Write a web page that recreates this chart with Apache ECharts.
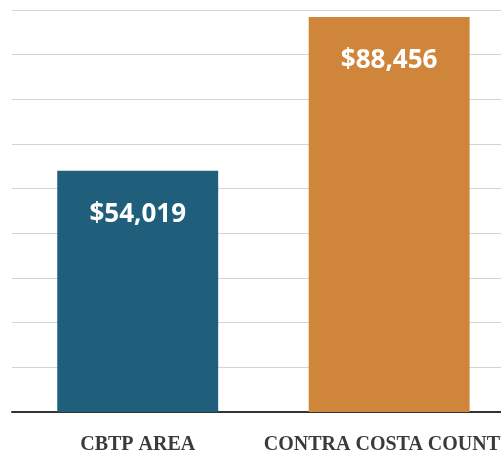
<!DOCTYPE html>
<html>
<head>
<meta charset="utf-8">
<script src="https://cdn.jsdelivr.net/npm/echarts@6/dist/echarts.min.js"></script>
<style>
  html, body { margin: 0; padding: 0; background: #fff; overflow: hidden; }
  /* the plot runs a little past the right edge of the page */
  #chart { width: 517px; height: 455px; }
</style>
</head>
<body>
<div id="chart"></div>
<script>
// Median household income by area
const categories = ['CBTP AREA', 'CONTRA COSTA COUNTY'];
const incomes = [54019, 88456];
const barColors = ['#1f5f7b', '#d0863a'];

const chart = echarts.init(document.getElementById('chart'), null, { renderer: 'canvas' });

chart.setOption({
  animation: false,
  backgroundColor: '#ffffff',
  grid: { left: 12, right: 0, top: 10, bottom: 39, containLabel: false },
  xAxis: {
    type: 'category',
    data: categories,
    axisLine: { show: true, lineStyle: { color: '#333333', width: 2 } },
    axisTick: { show: false },
    axisLabel: {
      interval: 0,
      hideOverlap: false,
      color: '#3a3a3a',
      fontFamily: 'Liberation Serif',
      fontWeight: 'bold',
      fontSize: 20,
      margin: 23
    }
  },
  yAxis: {
    type: 'value',
    min: 0,
    max: 90000,
    interval: 10000,
    axisLine: { show: false },
    axisTick: { show: false },
    axisLabel: { show: false },
    splitLine: { lineStyle: { color: '#d4d4d4', width: 1 } }
  },
  series: [{
    type: 'bar',
    barCategoryGap: '36%',
    data: incomes.map((v, i) => ({ value: v, itemStyle: { color: barColors[i] } })),
    label: {
      show: true,
      position: 'insideTop',
      distance: 31,
      color: '#ffffff',
      fontFamily: 'Open Sans',
      fontWeight: 'bold',
      fontSize: 26,
      formatter: p => '$' + p.value.toLocaleString('en-US')
    }
  }]
});
</script>
</body>
</html>
